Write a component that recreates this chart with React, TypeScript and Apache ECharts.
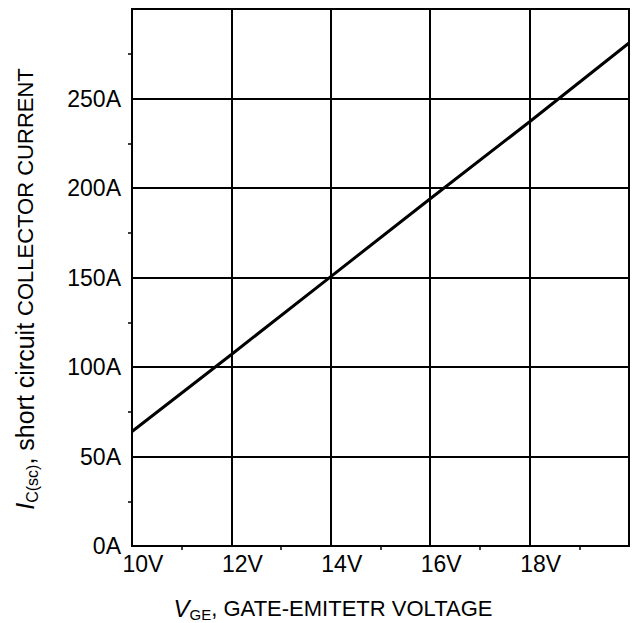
import React, { useEffect, useRef } from "react";
import * as echarts from "echarts";

const gateVoltage = [10, 12, 14, 16, 18, 20];
const scCurrent = [64, 107, 150.5, 194, 237, 281];
const xTicks = [10, 12, 14, 16, 18];
const yTicks = [0, 50, 100, 150, 200, 250];

const FONT = "'Liberation Sans', Arial, sans-serif";

export default function App() {
  const ref = useRef<HTMLDivElement>(null);
  useEffect(() => {
    if (!ref.current) return;
    const chart = echarts.init(ref.current, undefined, { renderer: "svg" });
    chart.setOption({
      animation: false,
      backgroundColor: "#fff",
      grid: {
        left: 132,
        top: 9,
        right: 0,
        bottom: 77,
        show: true,
        borderColor: "#000",
        borderWidth: 2,
      },
      xAxis: {
        type: "value",
        min: 10,
        max: 20,
        interval: 2,
        axisLine: { show: true, lineStyle: { color: "#000", width: 2 } },
        axisTick: { show: false },
        minorTick: { show: true, splitNumber: 2, length: 4, lineStyle: { color: "#000", width: 1.5 } },
        splitLine: { show: true, lineStyle: { color: "#000", width: 2 } },
        axisLabel: {
          color: "#000",
          fontFamily: FONT,
          fontSize: 23,
          margin: 6,
          padding: [0, 0, 0, 22],
          formatter: (v: number) => (xTicks.includes(v) ? v + "V" : ""),
        },
      },
      yAxis: {
        type: "value",
        min: 0,
        max: 300,
        interval: 50,
        axisLine: { show: true, lineStyle: { color: "#000", width: 2 } },
        axisTick: { show: false },
        minorTick: { show: true, splitNumber: 2, length: 4, lineStyle: { color: "#000", width: 1.5 } },
        splitLine: { show: true, lineStyle: { color: "#000", width: 2 } },
        axisLabel: {
          color: "#000",
          fontFamily: FONT,
          fontSize: 23,
          margin: 11,
          padding: [6, 0, 0, 0],
          formatter: (v: number) => (yTicks.includes(v) ? v + "A" : ""),
        },
      },
      series: [
        {
          type: "line",
          data: gateVoltage.map((v, i) => [v, scCurrent[i]]),
          showSymbol: false,
          lineStyle: { color: "#000", width: 3 },
        },
      ],
      graphic: [
        {
          type: "text",
          x: 333,
          y: 608,
          style: {
            text: "{it|V}{sub|GE}{n|, GATE-EMITETR VOLTAGE}",
            align: "center",
            verticalAlign: "middle",
            fill: "#000",
            rich: {
              it: { fontFamily: FONT, fontSize: 24, fontStyle: "italic", lineHeight: 28, fill: "#000" },
              sub: { fontFamily: FONT, fontSize: 15, lineHeight: 18, verticalAlign: "bottom", fill: "#000" },
              n: { fontFamily: FONT, fontSize: 22, lineHeight: 28, fill: "#000" },
            },
          },
        },
        {
          type: "text",
          x: 25,
          y: 289,
          rotation: Math.PI / 2,
          style: {
            text: "{it|I}{sub|C(sc)}{m|, short circuit }{n|COLLECTOR CURRENT}",
            align: "center",
            verticalAlign: "middle",
            fill: "#000",
            rich: {
              it: { fontFamily: FONT, fontSize: 25, fontStyle: "italic", lineHeight: 30, fill: "#000" },
              sub: { fontFamily: FONT, fontSize: 16, lineHeight: 18, verticalAlign: "bottom", fill: "#000" },
              m: { fontFamily: FONT, fontSize: 25, lineHeight: 30, fill: "#000" },
              n: { fontFamily: FONT, fontSize: 22, lineHeight: 30, fill: "#000" },
            },
          },
        },
      ],
    });
    return () => chart.dispose();
  }, []);
  return (
    <div
      ref={ref}
      style={{ position: "fixed", left: 0, top: 0, width: 632, height: 623, background: "#fff" }}
    />
  );
}
